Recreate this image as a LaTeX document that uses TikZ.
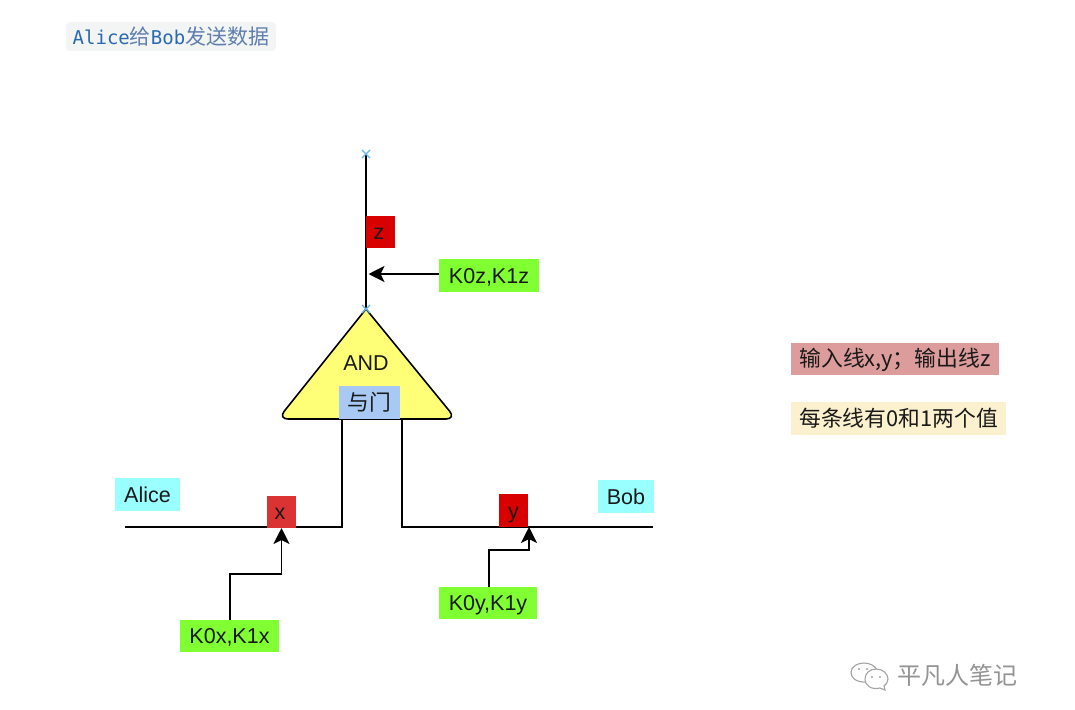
\documentclass[tikz,border=0pt]{standalone}
\usepackage{fontspec}
\setmainfont{Liberation Sans}
\setmonofont{DejaVu Sans Mono}
\newfontfamily\cjk{Noto Sans CJK SC}
\usetikzlibrary{positioning,arrows.meta}
\definecolor{keygreen}{HTML}{80FF33}
\definecolor{wirered}{HTML}{D90000}
\definecolor{wirexred}{HTML}{DB3333}
\definecolor{namecyan}{HTML}{99FFFF}
\definecolor{gateyellow}{HTML}{FFFF77}
\definecolor{gateblue}{HTML}{A9C9F5}
\definecolor{notered}{HTML}{DC9C9C}
\definecolor{noteyellow}{HTML}{FBF1CF}
\definecolor{titlegrey}{HTML}{F3F4F4}
\definecolor{titleblue}{HTML}{2A6AB0}
\definecolor{titlecjk}{HTML}{5F7FAE}
\definecolor{markcross}{HTML}{66B5E8}
\begin{document}
\begin{tikzpicture}[
    x=1pt,y=-1pt,
    every node/.style={inner sep=0pt,outer sep=0pt,text height=15.5pt,text depth=0pt,font=\fontsize{21.5}{25}\selectfont,text=black!90},
    boxes/.style={rectangle,minimum width=#1,minimum height=32pt},
    wirebox/.style={boxes=29pt,fill=wirered},
    keybox/.style={boxes=#1,fill=keygreen},
    namebox/.style={boxes=#1,minimum height=33pt,fill=namecyan},
    notes/.style={boxes=#1,font=\cjk\fontsize{21.8}{25}\selectfont},
    wire/.style={draw=black,line width=1.9pt},
    feed/.style={wire,-{Stealth[length=16pt,width=16pt,inset=4pt]}},
    crossmark/.style={draw=markcross,line width=1.3pt},
  ]
\useasboundingbox (0,0) rectangle (1075,709);
\fill[white] (0,0) rectangle (1075,709);

\node (title) at (171,36.5) [boxes=210pt,minimum height=29pt,fill=titlegrey,rounded corners=4pt,font=\fontsize{19}{23}\selectfont] {%
  \textcolor{titleblue}{\ttfamily Alice}\textcolor{titlecjk}{\cjk\fontsize{21}{23}\selectfont 给}\textcolor{titleblue}{\ttfamily Bob}\textcolor{titlecjk}{\cjk\fontsize{21}{23}\selectfont 发送数据}};

\coordinate (z top) at (366,154);
\coordinate (gate top) at (366,309);
\coordinate (gate left) at (278,419);
\coordinate (gate right) at (456,419);
\draw[wire] (z top) -- (gate top);
\node (z) at (380.5,232) [wirebox] {z\kern3pt};
\node (key z) at (489,275.5) [keybox=100pt,minimum height=33pt] {K0z,K1z};
\coordinate (z feed) at (368.5,274);
\draw[feed] (key z.west |- z feed) -- (z feed);

\draw[wire,line width=1.6pt,fill=gateyellow] (gate top) [rounded corners=10pt] -- (gate right) -- (gate left) [sharp corners] -- cycle;
\node (and) at (366,363) {AND};
\node (gate label) at (369.5,402.5) [boxes=61pt,minimum height=33pt,fill=gateblue,font=\cjk\fontsize{21.8}{25}\selectfont] {与门};

\foreach \mark in {z top,gate top} {
  \draw[crossmark] ([shift={(-4,-4)}]\mark) -- ([shift={(4,4)}]\mark);
  \draw[crossmark] ([shift={(-4,4)}]\mark) -- ([shift={(4,-4)}]\mark);
}

\coordinate (alice end) at (125,527);
\coordinate (alice join) at (342,527);
\coordinate (bob join) at (402,527);
\coordinate (bob end) at (653,527);
\draw[wire] (alice end) -- (alice join) -- (alice join |- gate label.south);
\draw[wire] (bob join |- gate label.south) -- (bob join) -- (bob end);

\node (alice) at (147.5,494.5) [namebox=65pt] {Alice};
\node (bob) at (626,496.5) [namebox=56pt] {Bob};

\node (x) at (281.5,512) [wirebox,fill=wirexred] {x\kern3pt};
\node (y) at (513.5,510.5) [wirebox,minimum height=33pt] {y};

\node (key x) at (229.5,636) [keybox=99pt] {K0x,K1x};
\node (key y) at (488,603) [keybox=98pt] {K0y,K1y};
\coordinate (x bend) at (230,574);
\coordinate (y bend) at (489,550);
\coordinate (y feed) at (529,527);
\draw[feed] (x bend |- key x.north) -- (x bend) -- (x.south |- x bend) -- (x.south);
\draw[feed] (y bend |- key y.north) -- (y bend) -- (y feed |- y bend) -- (y feed);

\node (note wires) at (895,359) [notes=208pt,fill=notered] {输入线x,y；输出线z};
\node (note values) at (898.5,418.5) [notes=215pt,minimum height=33pt,fill=noteyellow] {每条线有0和1两个值};
\node (watermark) at (957,677) [font=\cjk\fontsize{24}{28}\selectfont,text=black!42] {平凡人笔记};

\draw[black!36,line width=1.1pt] (868,682) .. controls (855,683) and (851,677) .. (851,672.5) .. controls (851,666) and (858,663) .. (864,663) .. controls (870,663) and (875,666) .. (877,670);
\draw[black!36,line width=1.1pt,fill=white] (876,669) .. controls (883,669) and (888,674) .. (888,679) .. controls (888,682) and (886,685) .. (884,686) -- (885,690) -- (880,688) .. controls (872,690) and (865,686) .. (865,679) .. controls (865,673) and (870,669) .. (876,669) -- cycle;
\fill[black!36] (859,669) circle (1.2) (867,669) circle (1.2) (872,677) circle (1.2) (880,677) circle (1.2);
\end{tikzpicture}
\end{document}
